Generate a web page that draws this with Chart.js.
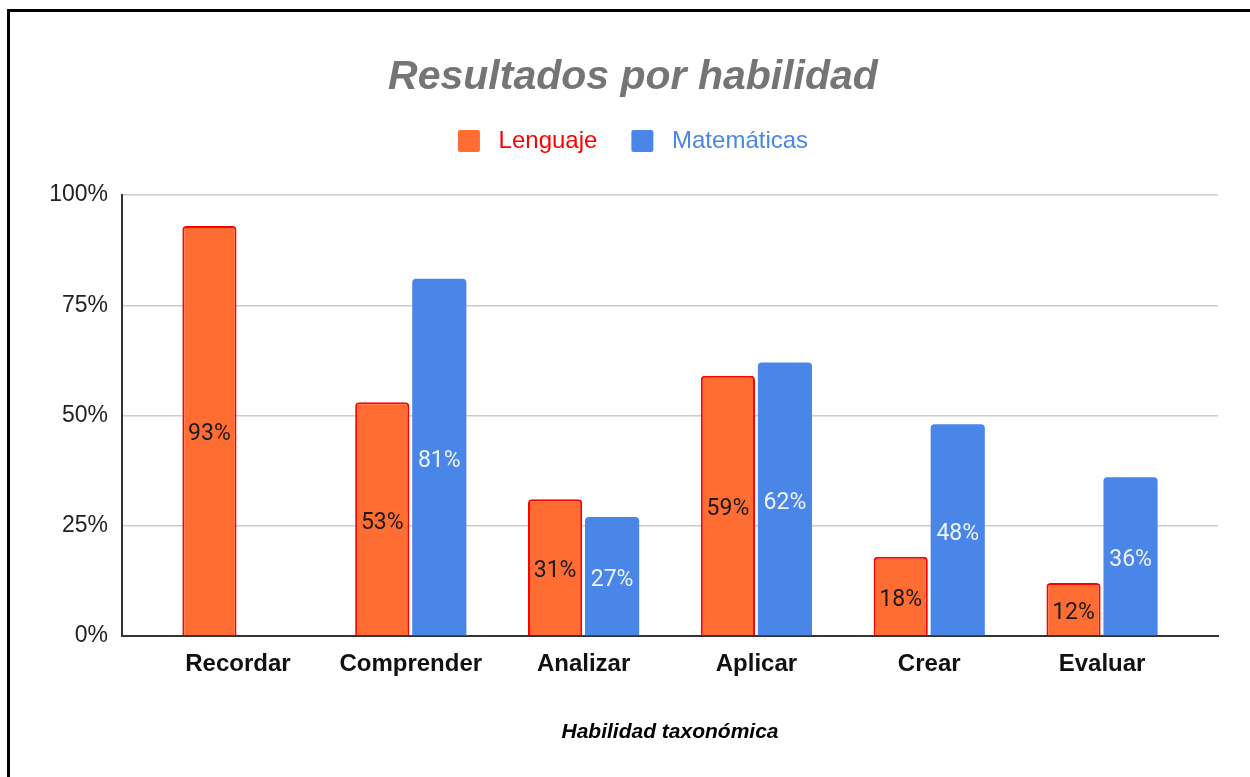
<!DOCTYPE html>
<html>
<head>
<meta charset="utf-8">
<title>Resultados por habilidad</title>
<script src="https://cdn.jsdelivr.net/npm/chart.js@4/dist/chart.umd.min.js"></script>
<style>
  html, body { margin: 0; padding: 0; background: #fff; overflow: hidden; }
  #marco {
    position: absolute; left: 7px; top: 9px;
    width: 1240px; height: 765px;
    border-left: 3px solid #000; border-top: 3px solid #000;
  }
</style>
</head>
<body>
<div id="marco"><canvas id="grafico" width="1240" height="765"></canvas></div>
<script>
const categorias = ['Recordar', 'Comprender', 'Analizar', 'Aplicar', 'Crear', 'Evaluar'];
const lenguaje = [93, 53, 31, 59, 18, 12];
const matematicas = [null, 81, 27, 62, 48, 36];
const ticksY = [0, 25, 50, 75, 100];

const NARANJA = '#ff6d33';
const AZUL = '#4a86e8';

// etiquetas de valor en el centro de cada barra
const etiquetas = {
  id: 'etiquetas',
  afterDatasetsDraw(chart) {
    const ctx = chart.ctx;
    ctx.save();
    ctx.font = '23px Roboto';
    ctx.textAlign = 'center';
    ctx.textBaseline = 'middle';
    chart.data.datasets.forEach((ds, i) => {
      chart.getDatasetMeta(i).data.forEach((bar, j) => {
        const v = ds.data[j];
        if (v == null) return;
        ctx.fillStyle = i === 0 ? '#1a1a1a' : '#eef3fd';
        ctx.fillText(v + '%', bar.x, (bar.y + bar.base) / 2 + 4);
      });
    });
    ctx.restore();
  }
};

const ctx = document.getElementById('grafico').getContext('2d');

new Chart(ctx, {
  type: 'bar',
  data: {
    labels: categorias,
    datasets: [
      {
        label: 'Lenguaje',
        data: lenguaje,
        backgroundColor: NARANJA,
        borderColor: '#ff0000',
        borderWidth: 2,
        borderRadius: { topLeft: 4, topRight: 4 },
        borderSkipped: 'start'
      },
      {
        label: 'Matemáticas',
        data: matematicas,
        backgroundColor: AZUL,
        borderWidth: 0,
        borderRadius: { topLeft: 4, topRight: 4 },
        borderSkipped: 'start'
      }
    ]
  },
  options: {
    responsive: false,
    animation: false,
    categoryPercentage: 0.66,
    barPercentage: 0.95,
    layout: { padding: { left: 38, right: 32, bottom: 32, top: 0 } },
    plugins: {
      title: {
        display: true,
        text: 'Resultados por habilidad',
        color: '#757575',
        font: { family: 'Liberation Sans', size: 41, weight: 'bold', style: 'italic', lineHeight: 0.83 },
        padding: { top: 49, bottom: 0 }
      },
      legend: {
        position: 'top',
        weight: 1800,
        labels: {
          boxWidth: 22,
          boxHeight: 22,
          padding: 34,
          useBorderRadius: true,
          borderRadius: 2,
          font: { family: 'Liberation Sans', size: 24 },
          generateLabels(chart) {
            const colores = ['#ff0000', AZUL];
            return chart.data.datasets.map((ds, i) => ({
              text: ' ' + ds.label,
              fillStyle: ds.backgroundColor,
              strokeStyle: ds.backgroundColor,
              lineWidth: 0,
              fontColor: colores[i],
              hidden: false,
              datasetIndex: i,
              borderRadius: 2
            }));
          }
        }
      },
      // espacio en blanco entre la leyenda y el área del gráfico
      subtitle: {
        display: true,
        text: '',
        font: { size: 1, lineHeight: 1 },
        padding: { top: 0, bottom: 31 }
      },
      tooltip: { enabled: false }
    },
    scales: {
      x: {
        grid: { display: false, drawTicks: false },
        border: { display: true, color: '#333333', width: 2 },
        ticks: {
          color: '#111111',
          padding: 14,
          font: { family: 'Liberation Sans', size: 24, weight: 'bold' }
        },
        title: {
          display: true,
          text: 'Habilidad taxonómica',
          color: '#000000',
          font: { family: 'Liberation Sans', size: 21, weight: 'bold', style: 'italic' },
          padding: { top: 27, bottom: 0 }
        },
        // deja un margen a ambos lados, como en el original
        afterBuildTicks(scale) {
          scale._startValue -= 0.171;
          scale._valueRange += 0.342;
        }
      },
      y: {
        min: 0,
        max: 100,
        grid: { color: '#cccccc', lineWidth: 1.5, drawTicks: false },
        border: { display: true, color: '#333333', width: 2 },
        afterBuildTicks(scale) {
          scale.ticks = ticksY.map(v => ({ value: v }));
        },
        ticks: {
          color: '#222222',
          padding: 14,
          font: { family: 'Liberation Sans', size: 23 },
          callback: v => v + '%'
        },
        afterFit(scale) {
          scale.width = 74;
        }
      }
    }
  },
  plugins: [etiquetas]
});
</script>
</body>
</html>
